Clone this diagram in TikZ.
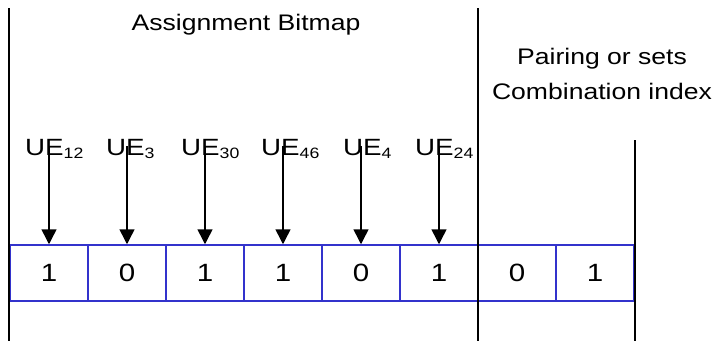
\documentclass[tikz,border=0pt]{standalone}
\usepackage{fontspec}
\setmainfont[FakeStretch=1.18]{Liberation Sans}
\usetikzlibrary{arrows.meta}
\definecolor{cellblue}{RGB}{51,51,204}
\providecommand{\titlefontsize}{\fontsize{22.5}{35}\selectfont}
\providecommand{\uefontsize}{\fontsize{23.5}{28}\selectfont}
\providecommand{\subfontsize}{\fontsize{15}{18}\selectfont}
\providecommand{\cellfontsize}{\fontsize{25}{30}\selectfont}
\newcommand{\uename}[1]{UE\raisebox{-3pt}{\subfontsize #1}}

\begin{document}
\begin{tikzpicture}[x=1pt,y=-1pt,
    cell/.style={draw=cellblue,line width=1.5pt,minimum width=78pt,minimum height=56pt,inner sep=0,font=\cellfontsize},
    uelabel/.style={anchor=base west,inner sep=0,font=\uefontsize},
    pointer/.style={line width=1.5pt,-{Triangle[width=15pt,length=15pt]}},
    divider/.style={line width=1.6pt}]
    \pgfmathsetmacro{\cellwidth}{78}
    \pgfmathsetmacro{\cellleft}{10}
    \pgfmathsetmacro{\cellmid}{273}
    \useasboundingbox (0,0) rectangle (716,341);
    % the bit cells
    \foreach \bit [count=\i] in {1,0,1,1,0,1,0,1}
      \node[cell] (c\i) at (\cellleft+\cellwidth*\i-\cellwidth/2,\cellmid) {\bit};
    % UE names and their pointers
    \foreach \ue/\x [count=\i] in {12/25,3/106,30/181,46/261,4/343,24/415} {
      \node[uelabel] (u\i) at (\x,155) {\uename{\ue}};
      \coordinate (a\i) at ([yshift=98pt]c\i.north);
      \draw[pointer] (a\i) -- (c\i.north);
    }
    % field borders
    \draw[divider] (9,8) -- (9,341);
    \draw[divider] (478,8) -- (478,341);
    \draw[divider] (635,140) -- (635,341);
    \node[font=\titlefontsize,anchor=base,inner sep=0] (bitmap) at (246,30) {Assignment Bitmap};
    \node[font=\titlefontsize,align=center,inner sep=0] (pairing) at (602,74) {Pairing or sets\\Combination index};
\end{tikzpicture}
\end{document}
